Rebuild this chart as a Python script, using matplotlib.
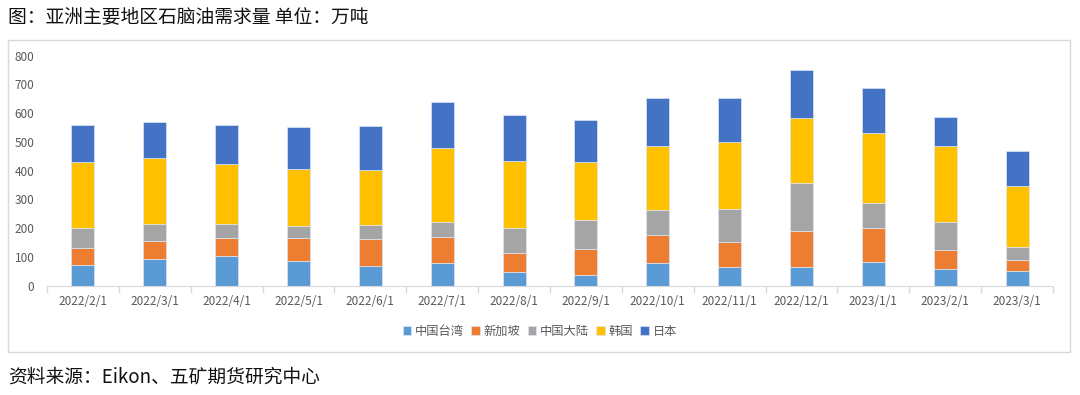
import numpy as np
import matplotlib
matplotlib.use('Agg')
import matplotlib.pyplot as plt
from matplotlib.patches import Rectangle

plt.rcParams['font.family'] = ['Noto Sans CJK SC', 'DejaVu Sans']

dates = ['2022/2/1', '2022/3/1', '2022/4/1', '2022/5/1', '2022/6/1', '2022/7/1', '2022/8/1',
         '2022/9/1', '2022/10/1', '2022/11/1', '2022/12/1', '2023/1/1', '2023/2/1', '2023/3/1']
taiwan = [73, 92, 104, 87, 70, 80, 46, 38, 80, 64, 64, 81, 57, 50]
singapore = [59, 65, 63, 80, 92, 90, 66, 90, 97, 89, 127, 121, 68, 40]
mainland = [70, 59, 49, 42, 49, 52, 89, 101, 87, 114, 166, 86, 97, 43]
korea = [228, 228, 207, 197, 191, 258, 232, 200, 222, 233, 228, 242, 263, 215]
japan = [128, 124, 135, 145, 152, 160, 162, 149, 166, 152, 164, 156, 103, 120]

names = ['中国台湾', '新加坡', '中国大陆', '韩国', '日本']
colors = ['#5B9BD5', '#ED7D31', '#A5A5A5', '#FFC000', '#4472C4']
series = [taiwan, singapore, mainland, korea, japan]

W, H = 1080, 395
fig = plt.figure(figsize=(W / 100, H / 100), dpi=100)

# chart frame
fig.patches.append(Rectangle((8 / W, 1 - 352 / H), (1070 - 8) / W, (352 - 40) / H,
                             transform=fig.transFigure, fill=False, edgecolor='#D9D9D9', lw=1))

# plot area in pixels: x 47..1053, y 55.7..285.7
x0, x1, ytop, ybot = 47, 1053, 55.7, 285.7
ax = fig.add_axes([x0 / W, 1 - ybot / H, (x1 - x0) / W, (ybot - ytop) / H])

x = np.arange(len(dates))
bottom = np.zeros(len(dates))
handles = []
for name, col, vals in zip(names, colors, series):
    b = ax.bar(x, vals, width=0.32, bottom=bottom, color=col, label=name,
               edgecolor='#DDE6F3', linewidth=0.5)
    handles.append(b)
    bottom += np.array(vals)

ax.set_xlim(-0.5, len(dates) - 0.5)
ax.set_ylim(0, 800)
ax.set_yticks(range(0, 801, 100))
ax.set_xticks(x)
ax.set_xticklabels(dates)
ax.set_xticks(np.arange(-0.5, len(dates), 1), minor=True)
ax.tick_params(axis='x', which='major', length=0, pad=7, labelsize=8.5, labelcolor='#595959')
ax.tick_params(axis='x', which='minor', length=5, color='#D9D9D9', width=1)
ax.tick_params(axis='y', length=0, pad=9, labelsize=8.5, labelcolor='#595959')
for s in ['top', 'right', 'left']:
    ax.spines[s].set_visible(False)
ax.spines['bottom'].set_color('#D9D9D9')

fig.legend(handles, names, loc='center', bbox_to_anchor=(540 / W, 1 - 331 / H), ncol=5,
           frameon=False, fontsize=8.8, handlelength=0.7, handleheight=0.7,
           handletextpad=0.3, columnspacing=0.6, labelcolor='#595959')

fig.text(8 / W, 1 - 17 / H, '图：亚洲主要地区石脑油需求量 单位：万吨', fontsize=13.5,
         va='center', ha='left', color='#111111')
fig.text(8 / W, 1 - 377 / H, '资料来源：Eikon、五矿期货研究中心', fontsize=13.5,
         va='center', ha='left', color='#111111')

fig.savefig('out.png', dpi=100)
